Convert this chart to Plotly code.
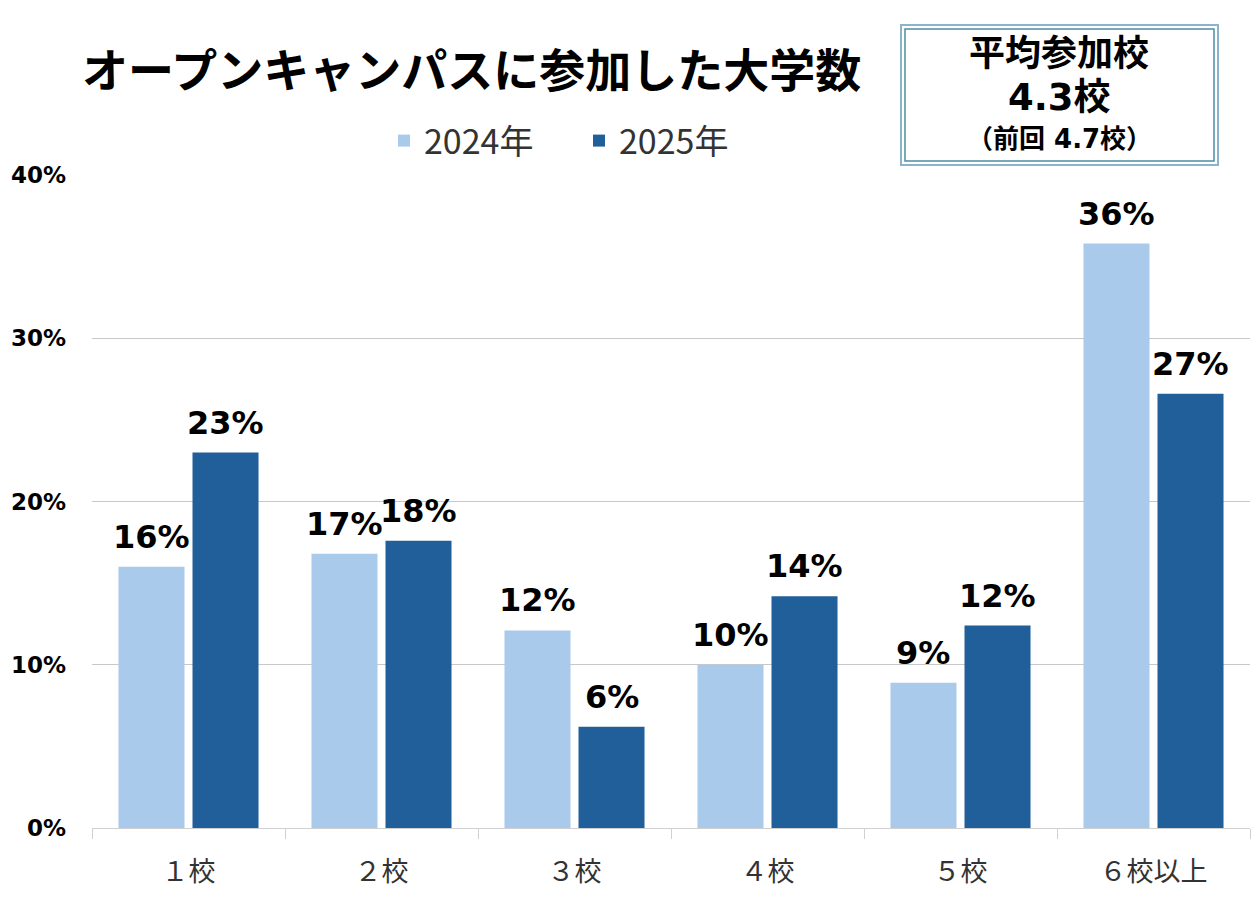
import plotly.graph_objects as go

categories = ["１校", "２校", "３校", "４校", "５校", "６校以上"]
values_2024 = [16.0, 16.8, 12.1, 10.0, 8.9, 35.8]
values_2025 = [23.0, 17.6, 6.2, 14.2, 12.4, 26.6]
series_names = ["2024年", "2025年"]
y_ticks = [0, 10, 20, 30, 40]
y_tick_labels = ["0%", "10%", "20%", "30%", "40%"]

title_text = "オープンキャンパスに参加した大学数"
box_lines = ["平均参加校", "4.3校", "（前回 4.7校）"]

W, H = 1260, 900
L, R, T, B = 92, 10, 175, 72
PW, PH = W - L - R, H - T - B


def px2x(px):
    return (px - L) / PW


def px2y(py):
    return (H - B - py) / PH


colors = ["#A9CAEB", "#215F9A"]
label_font = dict(family="DejaVu Sans", size=32, color="#000000")
MIX = "DejaVu Sans, Noto Sans CJK JP"

fig = go.Figure()
for name, vals, col in zip(series_names, [values_2024, values_2025], colors):
    fig.add_trace(go.Bar(
        x=categories, y=vals, name=name,
        marker=dict(color=col, line=dict(width=0)),
    ))

BARGAP = 0.233
slot_px = PW / len(categories) * (1 - BARGAP) / 2

annotations = []
for i, vals in enumerate([values_2024, values_2025]):
    shift = (i - 0.5) * slot_px
    for c, v in zip(categories, vals):
        annotations.append(dict(
            x=c, y=v, xref="x", yref="y", text=f"<b>{v:.0f}%</b>",
            showarrow=False, xanchor="center", yanchor="bottom",
            xshift=shift, yshift=9, font=label_font,
        ))

shapes = [
    dict(type="rect", xref="paper", yref="paper",
         x0=px2x(901), x1=px2x(1218), y0=px2y(165), y1=px2y(25),
         line=dict(color="#8DB3CC", width=2), fillcolor="rgba(0,0,0,0)"),
    dict(type="rect", xref="paper", yref="paper",
         x0=px2x(905), x1=px2x(1214), y0=px2y(161), y1=px2y(29),
         line=dict(color="#4E8CA3", width=1.5), fillcolor="rgba(0,0,0,0)"),
]

annotations += [
    dict(text=f"<b>{title_text}</b>", xref="paper", yref="paper",
         x=px2x(471), y=px2y(67), xanchor="center", yanchor="middle",
         showarrow=False,
         font=dict(family="Noto Sans CJK JP", size=46, color="#000000")),
    dict(text=f"<b>{box_lines[0]}</b>", xref="paper", yref="paper",
         x=px2x(1059), y=px2y(50), xanchor="center", yanchor="middle",
         showarrow=False,
         font=dict(family="Noto Sans CJK JP", size=36, color="#000000")),
    dict(text=f"<b>{box_lines[1]}</b>", xref="paper", yref="paper",
         x=px2x(1059), y=px2y(98), xanchor="center", yanchor="middle",
         showarrow=False,
         font=dict(family=MIX, size=37, color="#000000")),
    dict(text=f"<b>{box_lines[2]}</b>", xref="paper", yref="paper",
         x=px2x(1059), y=px2y(139), xanchor="center", yanchor="middle",
         showarrow=False,
         font=dict(family=MIX, size=26, color="#000000")),
]

fig.update_layout(
    width=W, height=H,
    margin=dict(l=L, r=R, t=T, b=B, pad=0),
    paper_bgcolor="#FFFFFF", plot_bgcolor="#FFFFFF",
    barmode="group", bargap=BARGAP, bargroupgap=0.108,
    showlegend=True,
    legend=dict(orientation="h", x=px2x(384), y=px2y(112),
                xanchor="left", yanchor="top",
                font=dict(family="Noto Sans CJK JP", size=34, color="#333333"),
                entrywidth=150, entrywidthmode="pixels",
                bgcolor="rgba(0,0,0,0)"),
    shapes=shapes,
    annotations=annotations,
    xaxis=dict(
        type="category", showline=True, linecolor="#D0D0D0", linewidth=1,
        ticks="outside", tickson="boundaries", ticklen=10, tickcolor="#D0D0D0",
        showgrid=False,
        tickfont=dict(family="Noto Sans CJK JP", size=27, color="#333333"),
        ticklabelstandoff=20,
    ),
    yaxis=dict(
        range=[0, 40], tickvals=y_ticks,
        ticktext=[f"<b>{t}</b>" for t in y_tick_labels],
        showgrid=True, gridcolor="#C8C8C8", gridwidth=1,
        zeroline=False, showline=False, ticks="",
        tickfont=dict(family="DejaVu Sans", size=23, color="#000000"),
        ticklabelstandoff=25,
    ),
    font=dict(family="DejaVu Sans"),
)

fig.write_html("out.html")
